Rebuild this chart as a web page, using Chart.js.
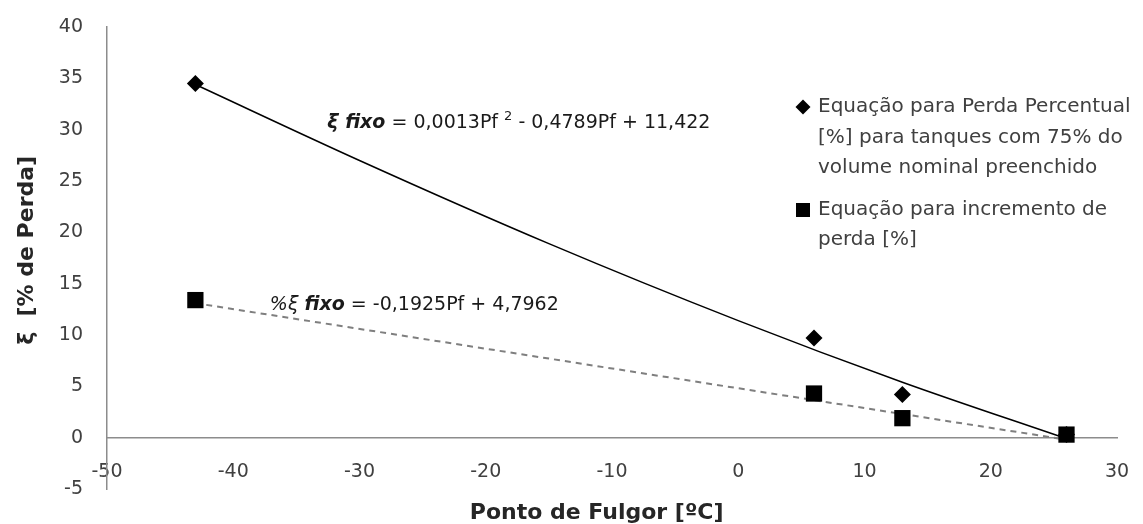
<!DOCTYPE html>
<html>
<head>
<meta charset="utf-8">
<script src="https://cdn.jsdelivr.net/npm/chart.js@4.4.1/dist/chart.umd.min.js"></script>
<style>
html,body{margin:0;padding:0;background:#fff;}
#wrap{width:1143px;height:524px;position:relative;}
</style>
</head>
<body>
<div id="wrap"><canvas id="c" width="1143" height="524"></canvas></div>
<script>
// Data
const flashPoints = [-43, 6, 13, 26];              // Ponto de Fulgor [ºC]
const lossPercent = [34.5, 9.7, 4.2, 0.3];          // Perda Percentual (75% preenchido)
const lossIncrement = [13.4, 4.3, 1.9, 0.3];        // Incremento de perda
// Trendlines
const trendPolyX = [-43, -30, -15, 0, 13, 26];
const trendPolyY = [34.4, 27.0, 18.9, 11.4, 5.4, -0.1];
const trendLinX = [-43, 26];
const trendLinY = [13.1, -0.2];
// Axis ticks
const xTicks = [-50, -40, -30, -20, -10, 0, 10, 20, 30];
const yTicks = [-5, 0, 5, 10, 15, 20, 25, 30, 35, 40];

const legendLines1 = ['Equação para Perda Percentual', '[%] para tanques com 75% do', 'volume nominal preenchido'];
const legendLines2 = ['Equação para incremento de', 'perda [%]'];

const FONT = "'DejaVu Sans', sans-serif";
Chart.defaults.font.family = FONT;
Chart.defaults.font.size = 19;
Chart.defaults.color = '#404040';

const pts = (xs, ys) => xs.map((x, i) => ({x: x, y: ys[i]}));

const annotPlugin = {
  id: 'annot',
  afterDraw(chart) {
    const ctx = chart.ctx;
    const xs = chart.scales.x, ys = chart.scales.y;
    ctx.save();
    ctx.textBaseline = 'middle';
    ctx.textAlign = 'left';
    ctx.fillStyle = '#1a1a1a';
    function run(parts, x, y) {
      let cx = x;
      parts.forEach(p => {
        ctx.font = p.f;
        ctx.fillText(p.t, cx, y + (p.dy || 0));
        cx += ctx.measureText(p.t).width;
      });
    }
    // equation 1
    run([
      {t: 'ξ fixo', f: 'italic bold 19px ' + FONT},
      {t: ' = 0,0013Pf ', f: '19px ' + FONT},
      {t: '2', f: '13px ' + FONT, dy: -6},
      {t: ' - 0,4789Pf + 11,422', f: '19px ' + FONT}
    ], xs.getPixelForValue(-32.55), ys.getPixelForValue(30.65));
    // equation 2
    run([
      {t: '%ξ ', f: 'italic 19px ' + FONT},
      {t: 'fixo', f: 'italic bold 19px ' + FONT},
      {t: ' = -0,1925Pf + 4,7962', f: '19px ' + FONT}
    ], xs.getPixelForValue(-37.1), ys.getPixelForValue(12.92));

    // legend
    ctx.fillStyle = '#404040';
    ctx.font = '20px ' + FONT;
    const lx = 818;
    legendLines1.forEach((t, i) => ctx.fillText(t, lx, 107 + i * 30.5));
    legendLines2.forEach((t, i) => ctx.fillText(t, lx, 210 + i * 30));
    ctx.fillStyle = '#000';
    // diamond
    ctx.beginPath();
    ctx.moveTo(803, 99.5); ctx.lineTo(810.5, 107); ctx.lineTo(803, 114.5); ctx.lineTo(795.5, 107); ctx.closePath();
    ctx.fill();
    // square
    ctx.fillRect(796, 203, 14, 14);
    ctx.restore();
  }
};

new Chart(document.getElementById('c'), {
  type: 'scatter',
  data: {
    datasets: [
      {
        label: 'Equação para Perda Percentual [%] para tanques com 75% do volume nominal preenchido',
        data: pts(flashPoints, lossPercent),
        pointStyle: 'rectRot', pointRadius: 8.5, pointHoverRadius: 8.5,
        backgroundColor: '#000', borderColor: '#000', borderWidth: 0
      },
      {
        label: 'Equação para incremento de perda [%]',
        data: pts(flashPoints, lossIncrement),
        pointStyle: 'rect', pointRadius: 11.5, pointHoverRadius: 11.5,
        backgroundColor: '#000', borderColor: '#000', borderWidth: 0
      },
      {
        label: 'trend poly',
        data: pts(trendPolyX, trendPolyY),
        showLine: true, pointRadius: 0, borderColor: '#000', borderWidth: 1.5,
        cubicInterpolationMode: 'monotone', fill: false
      },
      {
        label: 'trend lin',
        data: pts(trendLinX, trendLinY),
        showLine: true, pointRadius: 0, borderColor: '#7f7f7f', borderWidth: 2,
        borderDash: [6, 5], fill: false
      }
    ]
  },
  options: {
    responsive: false,
    animation: false,
    events: [],
    layout: {padding: {left: 0, right: 26, top: 27, bottom: 35}},
    plugins: {
      legend: {display: false},
      tooltip: {enabled: false}
    },
    scales: {
      x: {
        type: 'linear',
        position: {y: 0},
        min: -50, max: 30,
        afterBuildTicks: (s) => { s.ticks = xTicks.map(v => ({value: v})); },
        afterFit: (s) => { s.height = 89; s.paddingLeft = 0; s.paddingRight = 0; },
        grid: {display: false, drawTicks: false},
        border: {display: true, color: '#8c8c8c', width: 1.5},
        ticks: {padding: 23, color: '#404040'},
        title: {display: true, text: 'Ponto de Fulgor [ºC]    ', color: '#262626',
                font: {size: 22, weight: 'bold'}, padding: {top: 4, bottom: 0}}
      },
      y: {
        type: 'linear',
        position: 'left',
        min: -5, max: 40,
        afterBuildTicks: (s) => { s.ticks = yTicks.map(v => ({value: v})); },
        afterFit: (s) => { s.width = 107; s.paddingTop = 0; s.paddingBottom = 0; },
        grid: {display: false, drawTicks: false},
        border: {display: true, color: '#8c8c8c', width: 1.5},
        ticks: {padding: 24, color: '#404040'},
        title: {display: true, text: '  ξ  [% de Perda]', color: '#262626',
                font: {size: 22, weight: 'bold'}, padding: {top: 14, bottom: 0}}
      }
    }
  },
  plugins: [annotPlugin]
});
</script>
</body>
</html>
